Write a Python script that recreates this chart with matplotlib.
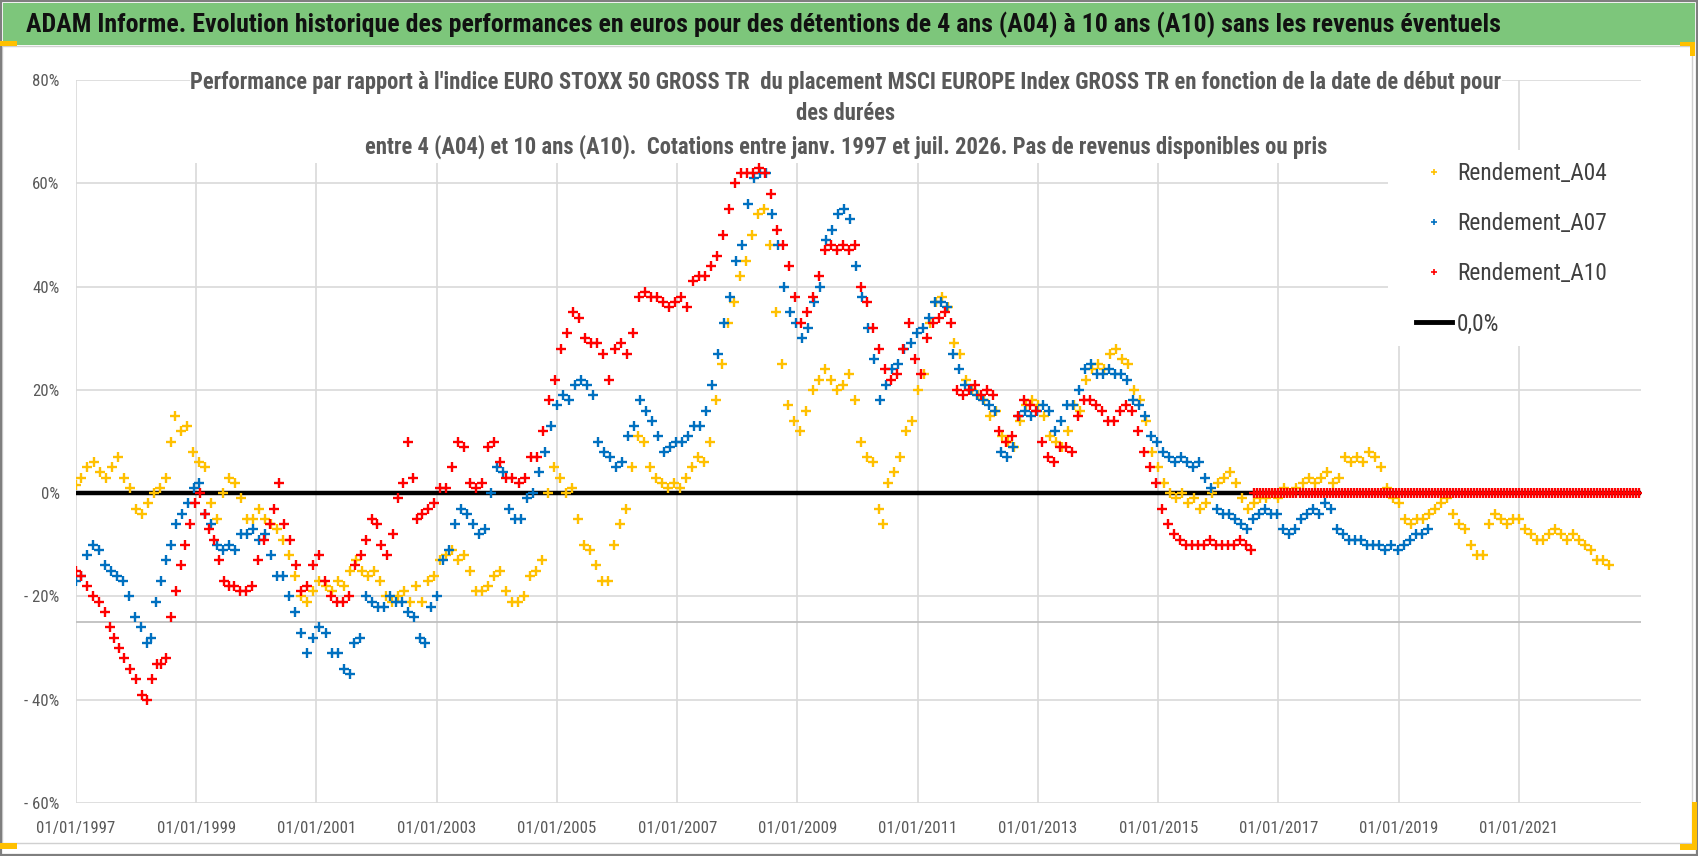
import matplotlib
matplotlib.use('Agg')
import matplotlib.pyplot as plt
from matplotlib import font_manager as fm
from matplotlib.patches import Rectangle
from matplotlib.lines import Line2D

# ---------------------------------------------------------------- data
a04_dates = [
    1997.00, 1997.08, 1997.18, 1997.30, 1997.40, 1997.50, 1997.60, 1997.70, 1997.80, 1997.90,
    1998.00, 1998.10, 1998.20, 1998.30, 1998.40, 1998.50, 1998.58, 1998.65, 1998.75, 1998.85, 1998.95,
    1999.05, 1999.15, 1999.25, 1999.35, 1999.45, 1999.55, 1999.65, 1999.75, 1999.85, 1999.95,
    2000.05, 2000.15, 2000.25, 2000.35, 2000.45, 2000.55, 2000.65, 2000.75, 2000.85, 2000.95,
    2001.05, 2001.15, 2001.25, 2001.35, 2001.45, 2001.55, 2001.65, 2001.75, 2001.85, 2001.95,
    2002.05, 2002.15, 2002.25, 2002.35, 2002.45, 2002.55, 2002.65, 2002.75, 2002.85, 2002.95,
    2003.05, 2003.15, 2003.25, 2003.35, 2003.45, 2003.55, 2003.65, 2003.75, 2003.85, 2003.95,
    2004.05, 2004.15, 2004.25, 2004.35, 2004.45, 2004.55, 2004.65, 2004.75, 2004.85, 2004.95,
    2005.05, 2005.15, 2005.25, 2005.35, 2005.45, 2005.55, 2005.65, 2005.75, 2005.85, 2005.95,
    2006.05, 2006.15, 2006.25, 2006.35, 2006.45, 2006.55, 2006.65, 2006.75, 2006.85, 2006.95,
    2007.05, 2007.15, 2007.25, 2007.35, 2007.45, 2007.55, 2007.65, 2007.75, 2007.85, 2007.95,
    2008.05, 2008.15, 2008.25, 2008.35, 2008.45, 2008.55, 2008.65, 2008.75, 2008.85, 2008.95,
    2009.05, 2009.15, 2009.25, 2009.35, 2009.45, 2009.55, 2009.65, 2009.75, 2009.85, 2009.95,
    2010.05, 2010.15, 2010.25, 2010.35, 2010.42, 2010.50, 2010.60, 2010.70, 2010.80, 2010.90,
    2011.00, 2011.10, 2011.20, 2011.30, 2011.40, 2011.50, 2011.60, 2011.70, 2011.80, 2011.90,
    2012.00, 2012.10, 2012.20, 2012.30, 2012.40, 2012.50, 2012.60, 2012.70, 2012.80, 2012.90,
    2013.00, 2013.10, 2013.20, 2013.30, 2013.40, 2013.50, 2013.60, 2013.70, 2013.80, 2013.90,
    2014.00, 2014.10, 2014.20, 2014.30, 2014.40, 2014.50, 2014.60, 2014.70, 2014.80, 2014.90,
    2015.00, 2015.10, 2015.20, 2015.30, 2015.40, 2015.50, 2015.60, 2015.70, 2015.80, 2015.90,
    2016.00, 2016.10, 2016.20, 2016.30, 2016.40, 2016.50, 2016.60, 2016.70, 2016.80, 2016.90,
    2017.00, 2017.10, 2017.20, 2017.30, 2017.40, 2017.50, 2017.60, 2017.70, 2017.80, 2017.90,
    2018.00, 2018.10, 2018.20, 2018.30, 2018.40, 2018.50, 2018.60, 2018.70, 2018.80, 2018.90,
    2019.00, 2019.10, 2019.20, 2019.30, 2019.40, 2019.50, 2019.60, 2019.70, 2019.80, 2019.90,
    2020.00, 2020.10, 2020.20, 2020.30, 2020.40, 2020.50, 2020.60, 2020.70, 2020.80, 2020.90,
    2021.00, 2021.10, 2021.20, 2021.30, 2021.40, 2021.50, 2021.60, 2021.70, 2021.80, 2021.90,
    2022.00, 2022.10, 2022.20, 2022.30, 2022.40, 2022.50,
]
a04_values = [
    1.5, 3, 5, 6, 4, 3, 5, 7, 3, 1,
    -3, -4, -2, 0, 1, 3, 10, 15, 12, 13, 8,
    6, 5, -2, -5, 0, 3, 2, -1, -5, -5,
    -3, -5, -6, -7, -9, -12, -16, -20, -21, -19,
    -17, -18, -19, -17, -18, -15, -13, -15, -16, -15,
    -17, -20, -21, -20, -19, -21, -18, -21, -17, -16,
    -13, -12, -11, -13, -12, -15, -19, -19, -18, -16,
    -15, -19, -21, -21, -20, -16, -15, -13, 0, 5,
    3, 0, 1, -5, -10, -11, -14, -17, -17, -10,
    -6, -3, 5, 11, 10, 5, 3, 2, 1, 2,
    1, 3, 5, 7, 6, 10, 18, 25, 33, 37,
    42, 45, 50, 54, 55, 48, 35, 25, 17, 14,
    12, 16, 20, 22, 24, 22, 20, 21, 23, 18,
    10, 7, 6, -3, -6, 2, 4, 7, 12, 14,
    20, 23, 33, 37, 38, 36, 29, 27, 22, 20,
    19, 18, 15, 16, 11, 10, 9, 14, 17, 18,
    17, 15, 11, 10, 9, 12, 17, 16, 22, 24,
    25, 24, 27, 28, 26, 25, 20, 18, 14, 8,
    5, 2, 0, -1, 0, -2, -1, -3, -2, 0,
    2, 3, 4, 2, -1, -3, -2, -1, -1, 0,
    -1, 1, 0, 1, 2, 3, 2, 3, 4, 2,
    3, 7, 6, 7, 6, 8, 7, 5, 1, -1,
    -2, -5, -6, -5, -5, -4, -3, -2, -1, -4,
    -6, -7, -10, -12, -12, -6, -4, -5, -6, -5,
    -5, -7, -8, -9, -9, -8, -7, -8, -9, -8,
    -9, -10, -11, -13, -13, -14,
]

a07_dates = [
    1997.00, 1997.08, 1997.18, 1997.28, 1997.38, 1997.48, 1997.58, 1997.68, 1997.78, 1997.88,
    1997.98, 1998.08, 1998.18, 1998.25, 1998.33, 1998.42, 1998.50, 1998.58, 1998.66, 1998.76,
    1998.86, 1998.96, 1999.05, 1999.15, 1999.25, 1999.35, 1999.45, 1999.55, 1999.65, 1999.75,
    1999.85, 1999.95, 2000.05, 2000.15, 2000.25, 2000.35, 2000.45, 2000.55, 2000.65, 2000.75,
    2000.85, 2000.95, 2001.05, 2001.15, 2001.25, 2001.35, 2001.45, 2001.55, 2001.62, 2001.72,
    2001.82, 2001.92, 2002.02, 2002.12, 2002.22, 2002.32, 2002.42, 2002.52, 2002.62, 2002.72,
    2002.80, 2002.90, 2003.00, 2003.10, 2003.20, 2003.30, 2003.40, 2003.50, 2003.60, 2003.70,
    2003.80, 2003.90, 2004.00, 2004.10, 2004.20, 2004.30, 2004.40, 2004.50, 2004.60, 2004.70,
    2004.80, 2004.90, 2005.00, 2005.10, 2005.20, 2005.30, 2005.40, 2005.50, 2005.60, 2005.68,
    2005.78, 2005.88, 2005.98, 2006.08, 2006.18, 2006.28, 2006.38, 2006.48, 2006.58, 2006.68,
    2006.78, 2006.88, 2006.98, 2007.08, 2007.18, 2007.28, 2007.38, 2007.48, 2007.58, 2007.68,
    2007.78, 2007.88, 2007.98, 2008.08, 2008.18, 2008.28, 2008.38, 2008.48, 2008.58, 2008.68,
    2008.78, 2008.88, 2008.98, 2009.08, 2009.18, 2009.28, 2009.38, 2009.48, 2009.58, 2009.68,
    2009.78, 2009.88, 2009.98, 2010.08, 2010.18, 2010.28, 2010.38, 2010.48, 2010.58, 2010.68,
    2010.78, 2010.88, 2010.98, 2011.08, 2011.18, 2011.28, 2011.38, 2011.48, 2011.58, 2011.68,
    2011.78, 2011.88, 2011.98, 2012.08, 2012.18, 2012.28, 2012.38, 2012.48, 2012.58, 2012.68,
    2012.78, 2012.88, 2012.98, 2013.08, 2013.18, 2013.28, 2013.38, 2013.48, 2013.58, 2013.68,
    2013.78, 2013.88, 2013.98, 2014.08, 2014.18, 2014.28, 2014.38, 2014.48, 2014.58, 2014.68,
    2014.78, 2014.88, 2014.98, 2015.08, 2015.18, 2015.28, 2015.38, 2015.48, 2015.58, 2015.68,
    2015.78, 2015.88, 2015.98, 2016.08, 2016.18, 2016.28, 2016.38, 2016.48, 2016.58, 2016.68,
    2016.78, 2016.88, 2016.98, 2017.08, 2017.18, 2017.28, 2017.38, 2017.48, 2017.58, 2017.68,
    2017.78, 2017.88, 2017.98, 2018.08, 2018.18, 2018.28, 2018.38, 2018.48, 2018.58, 2018.68,
    2018.78, 2018.88, 2018.98, 2019.08, 2019.18, 2019.28, 2019.38, 2019.48,
]
a07_values = [
    -17, -16, -12, -10, -11, -14, -15, -16, -17, -20,
    -24, -26, -29, -28, -21, -17, -13, -10, -6, -4,
    -2, 1, 2, -4, -6, -10, -11, -10, -11, -8,
    -8, -7, -9, -8, -12, -16, -16, -20, -23, -27,
    -31, -28, -26, -27, -31, -31, -34, -35, -29, -28,
    -20, -21, -22, -22, -20, -21, -21, -23, -24, -28,
    -29, -22, -20, -13, -11, -6, -3, -4, -6, -8,
    -7, 0, 5, 4, -3, -5, -5, -1, 0, 4,
    8, 13, 17, 19, 18, 21, 22, 21, 19, 10,
    8, 7, 5, 6, 11, 13, 18, 16, 14, 11,
    8, 9, 10, 10, 11, 13, 13, 16, 21, 27,
    33, 38, 45, 48, 56, 61, 62, 62, 54, 48,
    40, 35, 33, 30, 32, 37, 40, 49, 51, 54,
    55, 53, 44, 38, 32, 26, 18, 21, 24, 25,
    28, 29, 31, 32, 34, 37, 37, 36, 27, 24,
    21, 20, 19, 18, 17, 16, 8, 7, 9, 15,
    16, 15, 16, 17, 16, 12, 14, 17, 17, 20,
    24, 25, 23, 23, 24, 23, 23, 22, 18, 17,
    15, 11, 10, 8, 7, 6, 7, 6, 5, 6,
    3, 1, -3, -4, -4, -5, -6, -7, -5, -4,
    -3, -4, -4, -7, -8, -7, -5, -4, -3, -4,
    -2, -3, -7, -8, -9, -9, -9, -10, -10, -10,
    -11, -10, -11, -10, -9, -8, -8, -7,
]

a10_dates = [
    1997.00, 1997.08, 1997.18, 1997.28, 1997.38, 1997.48, 1997.56, 1997.64, 1997.72, 1997.80,
    1997.90, 1998.00, 1998.10, 1998.18, 1998.26, 1998.34, 1998.42, 1998.50, 1998.58, 1998.66,
    1998.74, 1998.82, 1998.90, 1998.98, 1999.06, 1999.14, 1999.22, 1999.30, 1999.38, 1999.46,
    1999.54, 1999.62, 1999.72, 1999.82, 1999.92, 2000.02, 2000.12, 2000.22, 2000.30, 2000.38,
    2000.46, 2000.56, 2000.66, 2000.74, 2000.84, 2000.94, 2001.04, 2001.14, 2001.24, 2001.34,
    2001.44, 2001.54, 2001.64, 2001.74, 2001.82, 2001.92, 2002.00, 2002.08, 2002.18, 2002.28,
    2002.36, 2002.44, 2002.52, 2002.60, 2002.68, 2002.76, 2002.86, 2002.96, 2003.06, 2003.16,
    2003.26, 2003.36, 2003.46, 2003.56, 2003.66, 2003.76, 2003.86, 2003.96, 2004.06, 2004.16,
    2004.26, 2004.36, 2004.46, 2004.56, 2004.66, 2004.76, 2004.86, 2004.96, 2005.06, 2005.16,
    2005.26, 2005.36, 2005.46, 2005.56, 2005.66, 2005.76, 2005.86, 2005.96, 2006.06, 2006.16,
    2006.26, 2006.36, 2006.46, 2006.56, 2006.66, 2006.76, 2006.86, 2006.96, 2007.06, 2007.16,
    2007.26, 2007.36, 2007.46, 2007.56, 2007.66, 2007.76, 2007.86, 2007.96, 2008.06, 2008.16,
    2008.26, 2008.36, 2008.46, 2008.56, 2008.66, 2008.76, 2008.86, 2008.96, 2009.06, 2009.16,
    2009.26, 2009.36, 2009.46, 2009.56, 2009.66, 2009.76, 2009.86, 2009.96, 2010.06, 2010.16,
    2010.26, 2010.36, 2010.46, 2010.56, 2010.66, 2010.76, 2010.86, 2010.96, 2011.06, 2011.16,
    2011.26, 2011.36, 2011.46, 2011.56, 2011.66, 2011.76, 2011.86, 2011.96, 2012.06, 2012.16,
    2012.26, 2012.36, 2012.46, 2012.56, 2012.66, 2012.76, 2012.86, 2012.96, 2013.06, 2013.16,
    2013.26, 2013.36, 2013.46, 2013.56, 2013.66, 2013.76, 2013.86, 2013.96, 2014.06, 2014.16,
    2014.26, 2014.36, 2014.46, 2014.56, 2014.66, 2014.76, 2014.86, 2014.96, 2015.06, 2015.16,
    2015.26, 2015.36, 2015.46, 2015.56, 2015.66, 2015.76, 2015.86, 2015.96, 2016.06, 2016.16,
    2016.26, 2016.36, 2016.46, 2016.54,
    # no data any more: the series is shown at 0
    2016.60, 2016.65, 2016.70, 2016.75, 2016.80, 2016.85, 2016.90, 2016.95,
    2017.00, 2017.05, 2017.10, 2017.15, 2017.20, 2017.25, 2017.30, 2017.35, 2017.40, 2017.45,
    2017.50, 2017.55, 2017.60, 2017.65, 2017.70, 2017.75, 2017.80, 2017.85, 2017.90, 2017.95,
    2018.00, 2018.05, 2018.10, 2018.15, 2018.20, 2018.25, 2018.30, 2018.35, 2018.40, 2018.45,
    2018.50, 2018.55, 2018.60, 2018.65, 2018.70, 2018.75, 2018.80, 2018.85, 2018.90, 2018.95,
    2019.00, 2019.05, 2019.10, 2019.15, 2019.20, 2019.25, 2019.30, 2019.35, 2019.40, 2019.45,
    2019.50, 2019.55, 2019.60, 2019.65, 2019.70, 2019.75, 2019.80, 2019.85, 2019.90, 2019.95,
    2020.00, 2020.05, 2020.10, 2020.15, 2020.20, 2020.25, 2020.30, 2020.35, 2020.40, 2020.45,
    2020.50, 2020.55, 2020.60, 2020.65, 2020.70, 2020.75, 2020.80, 2020.85, 2020.90, 2020.95,
    2021.00, 2021.05, 2021.10, 2021.15, 2021.20, 2021.25, 2021.30, 2021.35, 2021.40, 2021.45,
    2021.50, 2021.55, 2021.60, 2021.65, 2021.70, 2021.75, 2021.80, 2021.85, 2021.90, 2021.95,
    2022.00, 2022.05, 2022.10, 2022.15, 2022.20, 2022.25, 2022.30, 2022.35, 2022.40, 2022.45,
    2022.50, 2022.55, 2022.60, 2022.65, 2022.70, 2022.75, 2022.80, 2022.85, 2022.90, 2022.95,
    2023.00,
]
a10_values = [
    -15, -16, -18, -20, -21, -23, -26, -28, -30, -32,
    -34, -36, -39, -40, -36, -33, -33, -32, -24, -19,
    -14, -10, -6, -2, 0, -4, -7, -9, -13, -17,
    -18, -18, -19, -19, -18, -13, -9, -6, -3, 2,
    -6, -9, -14, -19, -18, -14, -12, -17, -20, -21,
    -21, -20, -14, -12, -9, -5, -6, -10, -12, -8,
    -1, 2, 10, 3, -5, -4, -3, -2, 1, 1,
    5, 10, 9, 2, 1, 2, 9, 10, 6, 3,
    3, 2, 3, 7, 7, 12, 18, 22, 28, 31,
    35, 34, 30, 29, 29, 27, 22, 28, 29, 27,
    31, 38, 39, 38, 38, 37, 36, 37, 38, 36,
    41, 42, 42, 44, 46, 50, 55, 60, 62, 62,
    62, 63, 62, 58, 51, 48, 44, 38, 33, 35,
    38, 42, 47, 48, 47, 48, 47, 48, 40, 37,
    32, 28, 24, 22, 23, 28, 33, 26, 23, 30,
    33, 34, 35, 33, 20, 19, 20, 21, 19, 20,
    19, 12, 10, 11, 15, 18, 17, 16, 10, 7,
    6, 9, 9, 8, 15, 18, 18, 17, 16, 14,
    14, 16, 17, 16, 12, 8, 5, 2, -3, -6,
    -8, -9, -10, -10, -10, -10, -9, -10, -10, -10,
    -10, -9, -10, -11,
    0, 0, 0, 0, 0, 0, 0, 0,
    0, 0, 0, 0, 0, 0, 0, 0, 0, 0,
    0, 0, 0, 0, 0, 0, 0, 0, 0, 0,
    0, 0, 0, 0, 0, 0, 0, 0, 0, 0,
    0, 0, 0, 0, 0, 0, 0, 0, 0, 0,
    0, 0, 0, 0, 0, 0, 0, 0, 0, 0,
    0, 0, 0, 0, 0, 0, 0, 0, 0, 0,
    0, 0, 0, 0, 0, 0, 0, 0, 0, 0,
    0, 0, 0, 0, 0, 0, 0, 0, 0, 0,
    0, 0, 0, 0, 0, 0, 0, 0, 0, 0,
    0, 0, 0, 0, 0, 0, 0, 0, 0, 0,
    0, 0, 0, 0, 0, 0, 0, 0, 0, 0,
    0, 0, 0, 0, 0, 0, 0, 0, 0, 0,
    0,
]

zero_line_dates = [1997.0, 2023.0]
zero_line_values = [0.0, 0.0]
x_axis_crosses_at = -25

series_labels = ['Rendement_A04', 'Rendement_A07', 'Rendement_A10', '0,0%']
x_tick_years = [1997, 1999, 2001, 2003, 2005, 2007, 2009, 2011, 2013, 2015, 2017, 2019, 2021]
x_tick_labels = ['01/01/%d' % y for y in x_tick_years]
y_tick_values = [-60, -40, -20, 0, 20, 40, 60, 80]
y_tick_labels = ['- 60%', '- 40%', '- 20%', '0%', '20%', '40%', '60%', '80%']

title_text = ("ADAM Informe. Evolution historique des performances en euros pour des "
              "détentions de 4 ans (A04) à 10 ans (A10) sans les revenus éventuels")
subtitle_lines = [
    "Performance par rapport à l'indice EURO STOXX 50 GROSS TR  du placement MSCI EUROPE "
    "Index GROSS TR en fonction de la date de début pour",
    "des durées",
    "entre 4 (A04) et 10 ans (A10).  Cotations entre janv. 1997 et juil. 2026. "
    "Pas de revenus disponibles ou pris",
]

# ---------------------------------------------------------------- style
C04, C07, C10 = '#FFC000', '#0070C0', '#FF0000'
GRID = '#D9D9D9'
TXT = '#595959'
LEGTXT = '#404040'
GREEN = '#7DC67B'
GOLD = '#FFC000'

W, H, DPI = 1698, 856, 100


def pick_font(cands):
    for c in cands:
        try:
            fm.findfont(fm.FontProperties(family=c), fallback_to_default=False)
            return c
        except Exception:
            continue
    return 'DejaVu Sans'


FONT = pick_font(['Liberation Sans Narrow', 'Roboto Condensed', 'Open Sans Condensed',
                  'Liberation Sans', 'DejaVu Sans'])
plt.rcParams['font.family'] = [FONT, 'DejaVu Sans']


def fx(px):
    return px / W


def fy(py):
    return 1 - py / H


fig = plt.figure(figsize=(W / DPI, H / DPI), dpi=DPI, facecolor='white')

# frame, banner and selection handles
fig.add_artist(Rectangle((fx(2), fy(843)), fx(1692) - fx(2), fy(46) - fy(843),
                         transform=fig.transFigure, facecolor='white',
                         edgecolor='#D0D0D0', lw=1.0, zorder=-2))
fig.add_artist(Rectangle((fx(3), fy(45)), fx(1695) - fx(3), fy(3) - fy(45),
                         transform=fig.transFigure, facecolor=GREEN,
                         edgecolor='none', zorder=-1))
fig.add_artist(Rectangle((fx(0.8), fy(855.2)), fx(1697.2) - fx(0.8), fy(0.8) - fy(855.2),
                         transform=fig.transFigure, facecolor='none',
                         edgecolor='#7F7F7F', lw=1.6, zorder=10))
for (x0, y0, x1, y1) in [(0, 41, 17, 46), (0, 843, 17, 849),
                         (1680, 42, 1695, 46), (1690, 42, 1695, 56),
                         (1692, 802, 1697, 850), (1680, 844, 1697, 850)]:
    fig.add_artist(Rectangle((fx(x0), fy(y1)), fx(x1) - fx(x0), fy(y0) - fy(y1),
                             transform=fig.transFigure, facecolor=GOLD,
                             edgecolor='none', zorder=11))

# plot area
ax = fig.add_axes([fx(76), fy(803), fx(1641) - fx(76), fy(80) - fy(803)])
ax.set_facecolor('none')
ax.set_xlim(1997.0, 2023.03)
ax.set_ylim(-60, 80)
for s in ax.spines.values():
    s.set_visible(False)
ax.set_axisbelow(True)
ax.set_xticks(x_tick_years)
ax.set_xticklabels(x_tick_labels)
ax.set_yticks(y_tick_values)
ax.set_yticklabels(y_tick_labels)
ax.grid(True, color=GRID, lw=1.2)
ax.tick_params(length=0, colors=TXT, labelsize=11)
ax.axhline(x_axis_crosses_at, color='#BFBFBF', lw=1.3, zorder=0.7)

# white boxes of the title and legend on top of the grid
for (x0, y0, x1, y1) in [(190, 60, 1502, 163), (1388, 150, 1641, 346)]:
    ax.add_patch(Rectangle((fx(x0), fy(y1)), fx(x1) - fx(x0), fy(y0) - fy(y1),
                           transform=fig.transFigure, facecolor='white',
                           edgecolor='none', zorder=1, clip_on=False))

mk = dict(ls='none', marker='+', ms=7.5, mew=1.7)
ax.plot(zero_line_dates, zero_line_values, color='black', lw=3.2, zorder=2)
ax.plot(a04_dates, a04_values, color=C04, zorder=3, **mk)
ax.plot(a07_dates, a07_values, color=C07, zorder=4, **mk)
ax.plot(a10_dates, a10_values, color=C10, zorder=5, **mk)

# texts
t_title = fig.text(fx(26), fy(25), title_text, ha='left', va='center',
                   fontweight='bold', color='#111111', fontsize=20)
sub = [fig.text(fx(846), fy(yy), s, ha='center', va='center', fontweight='bold',
                color=TXT, fontsize=13)
       for s, yy in zip(subtitle_lines, [82, 114, 147])]

handles = [Line2D([], [], ls='none', marker='+', color=C04, ms=5, mew=1.2),
           Line2D([], [], ls='none', marker='+', color=C07, ms=5, mew=1.2),
           Line2D([], [], ls='none', marker='+', color=C10, ms=5, mew=1.2),
           Line2D([], [], color='black', lw=3.5)]


def make_legend(fs, hl, htp, ls, anchor):
    leg = ax.legend(handles, series_labels, loc='upper left', bbox_to_anchor=anchor,
                    bbox_transform=fig.transFigure, frameon=False, borderpad=0,
                    borderaxespad=0, handlelength=hl, handletextpad=htp,
                    labelspacing=ls, prop={'family': [FONT, 'DejaVu Sans'], 'size': fs},
                    labelcolor=LEGTXT)
    leg.set_zorder(6)
    return leg


fig.canvas.draw()
r = fig.canvas.get_renderer()


def fit(t, target):
    w = t.get_window_extent(renderer=r).width
    t.set_fontsize(t.get_fontsize() * target / w)


fit(t_title, 1469)
fit(sub[0], 1306)
for s in sub[1:]:
    s.set_fontsize(sub[0].get_fontsize())

# tick labels
fig.canvas.draw()
w = ax.get_xticklabels()[0].get_window_extent(renderer=r).width
tfs = 11 * 78 / w
ax.tick_params(labelsize=tfs)
fig.canvas.draw()
bb = ax.get_xticklabels()[0].get_window_extent(renderer=r)
cy = (bb.y0 + bb.y1) / 2
xpad = 3.5 + (cy - (H - 828)) * 72 / DPI
bb = ax.get_yticklabels()[0].get_window_extent(renderer=r)
ypad = 3.5 + (bb.x1 - 59.5) * 72 / DPI
ax.tick_params(axis='x', pad=xpad)
ax.tick_params(axis='y', pad=ypad)

# legend
fs = 15
anchor = (fx(1416), fy(160))
leg = make_legend(fs, 2.0, 0.4, 0.8, anchor)
fig.canvas.draw()
w = leg.get_texts()[0].get_window_extent(renderer=r).width
fs = fs * 150 / w
fpx = fs * DPI / 72
hl, htp, ls = 36 / fpx, 5 / fpx, 0.8
leg.remove()
leg = make_legend(fs, hl, htp, ls, anchor)
fig.canvas.draw()
b0 = leg.get_texts()[0].get_window_extent(renderer=r)
b1 = leg.get_texts()[1].get_window_extent(renderer=r)
pitch = (b0.y0 + b0.y1) / 2 - (b1.y0 + b1.y1) / 2
ls = ls + (50 - pitch) / fpx
leg.remove()
leg = make_legend(fs, hl, htp, ls, anchor)
fig.canvas.draw()
b0 = leg.get_texts()[0].get_window_extent(renderer=r)
anchor = (anchor[0] + (1457 - b0.x0) / W,
          anchor[1] + ((H - 174) - (b0.y0 + b0.y1) / 2) / H)
leg.remove()
leg = make_legend(fs, hl, htp, ls, anchor)

fig.savefig('out.png', dpi=DPI, facecolor='white')
